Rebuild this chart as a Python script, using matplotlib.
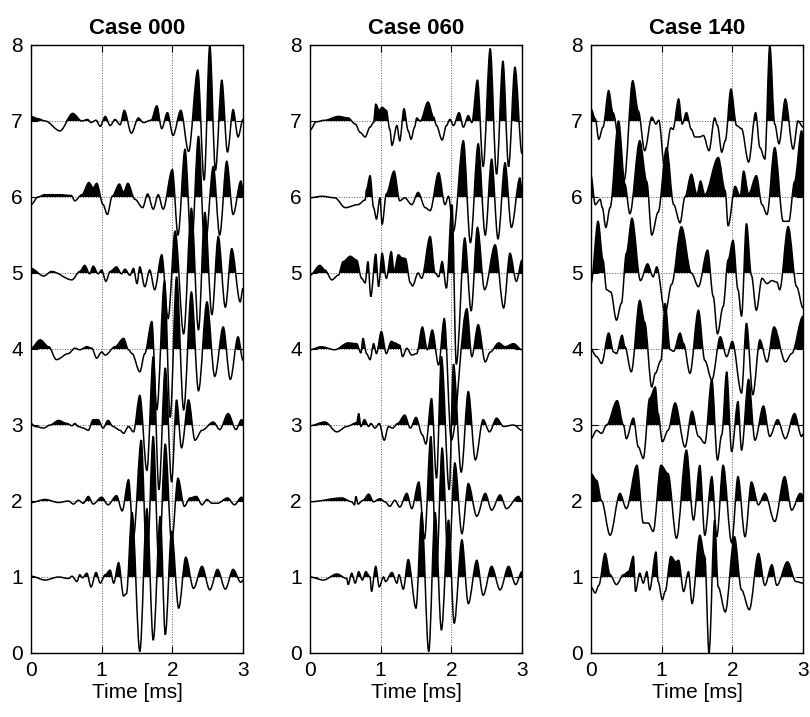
import numpy as np
import matplotlib
matplotlib.use("Agg")
import matplotlib.pyplot as plt
from matplotlib.path import Path
from matplotlib.patches import PathPatch, Rectangle

plt.rcParams['font.family'] = ['Liberation Sans', 'DejaVu Sans']

# trace turning points: (time [ms], amplitude in trace units)
# ---- Case 000 ----
c000_tr1 = [(0.00, 0.01), (0.20, -0.04), (0.39, 0.00), (0.53, -0.02), (0.58, 0.01), (0.65, -0.06),
            (0.69, 0.03), (0.73, -0.01), (0.79, 0.05), (0.85, -0.13), (0.92, 0.06), (0.98, -0.08),
            (1.05, 0.03), (1.12, 0.09), (1.17, -0.08), (1.24, 0.19), (1.31, -0.25), (1.35, -0.22),
            (1.43, 0.85), (1.54, -0.98), (1.64, 0.90), (1.73, -0.83), (1.83, 0.80), (1.90, -0.76),
            (1.99, 0.60), (2.09, -0.41), (2.19, 0.26), (2.30, -0.15), (2.42, 0.14), (2.53, -0.17),
            (2.64, 0.10), (2.75, -0.16), (2.86, 0.10), (2.97, -0.07), (3.00, -0.04)]
c000_tr2 = [(0.00, -0.02), (0.20, 0.02), (0.39, -0.02), (0.53, 0.00), (0.60, -0.04), (0.67, 0.01),
            (0.74, -0.03), (0.81, 0.06), (0.88, -0.04), (1.00, 0.05), (1.09, -0.05), (1.21, 0.07),
            (1.29, -0.13), (1.38, 0.28), (1.45, -0.47), (1.56, 0.80), (1.64, -0.85), (1.73, 0.85),
            (1.81, -0.85), (1.90, 0.75), (1.99, -0.55), (2.08, 0.30), (2.17, -0.07), (2.25, 0.04),
            (2.34, 0.06), (2.42, -0.05), (2.49, 0.02), (2.56, -0.03), (2.64, -0.03), (2.78, 0.04),
            (2.88, -0.05), (2.98, 0.05), (3.00, 0.04)]
c000_tr3 = [(0.00, 0.02), (0.06, -0.02), (0.18, -0.04), (0.27, 0.00), (0.39, 0.06), (0.51, 0.02),
            (0.58, -0.01), (0.62, 0.02), (0.67, -0.02), (0.74, -0.04), (0.81, -0.07), (0.88, 0.07),
            (0.95, 0.07), (1.02, -0.04), (1.09, 0.06), (1.16, -0.02), (1.26, -0.07), (1.31, -0.11),
            (1.38, -0.02), (1.45, -0.09), (1.54, 0.39), (1.64, -0.60), (1.73, 0.90), (1.81, -0.85),
            (1.90, 0.75), (1.99, -0.75), (2.06, 0.33), (2.13, -0.30), (2.23, 0.33), (2.32, -0.20),
            (2.42, -0.07), (2.58, 0.04), (2.67, -0.06), (2.79, 0.15), (2.90, -0.06), (2.98, 0.07),
            (3.00, 0.05)]
c000_tr4 = [(0.00, 0.01), (0.13, 0.12), (0.25, 0.03), (0.36, -0.14), (0.53, -0.06), (0.62, 0.01),
            (0.69, -0.01), (0.79, 0.03), (0.86, 0.01), (0.93, -0.12), (1.00, -0.04), (1.05, -0.08),
            (1.19, 0.03), (1.31, 0.14), (1.38, -0.01), (1.43, -0.06), (1.54, -0.30), (1.61, -0.06),
            (1.71, 0.36), (1.78, -0.80), (1.89, 0.90), (1.97, -0.90), (2.06, 0.95), (2.16, -0.80),
            (2.27, 0.75), (2.37, -0.55), (2.49, 0.62), (2.60, -0.36), (2.72, 0.29), (2.82, -0.40),
            (2.93, 0.16), (3.00, -0.15)]
c000_tr5 = [(0.00, 0.06), (0.18, -0.04), (0.29, 0.02), (0.58, -0.09), (0.69, 0.02), (0.76, 0.10),
            (0.83, -0.01), (0.88, 0.09), (0.95, -0.01), (1.00, 0.04), (1.06, -0.11), (1.12, 0.02),
            (1.21, 0.08), (1.28, -0.01), (1.33, 0.05), (1.40, -0.03), (1.45, 0.06), (1.50, -0.14),
            (1.54, 0.08), (1.61, -0.18), (1.68, 0.04), (1.75, -0.22), (1.85, 0.24), (1.94, -0.60),
            (2.04, 0.55), (2.16, -0.80), (2.27, 0.85), (2.37, -0.75), (2.46, 0.80), (2.56, -0.55),
            (2.65, 0.48), (2.75, -0.45), (2.84, 0.32), (2.96, -0.38), (3.00, -0.20)]
c000_tr6 = [(0.00, -0.10), (0.10, 0.00), (0.19, 0.03), (0.40, 0.03), (0.57, 0.02), (0.62, -0.05),
            (0.72, 0.03), (0.82, 0.19), (0.88, 0.12), (0.93, 0.18), (1.02, -0.10), (1.08, -0.23),
            (1.15, 0.01), (1.25, 0.17), (1.31, 0.06), (1.37, 0.18), (1.47, -0.03), (1.58, -0.14),
            (1.65, 0.04), (1.73, -0.16), (1.80, 0.03), (1.87, -0.16), (2.00, 0.36), (2.08, -0.50),
            (2.18, 0.63), (2.27, -0.70), (2.37, 0.80), (2.46, -0.70), (2.58, 0.40), (2.67, -0.50),
            (2.77, 0.47), (2.86, -0.23), (2.97, 0.21), (3.00, 0.10)]
c000_tr7 = [(0.00, 0.06), (0.10, 0.03), (0.20, 0.00), (0.41, -0.13), (0.59, 0.10), (0.72, 0.00),
            (0.80, 0.02), (0.85, -0.02), (0.92, 0.01), (0.98, -0.07), (1.05, 0.06), (1.12, -0.06),
            (1.19, 0.02), (1.26, -0.05), (1.32, 0.14), (1.42, -0.16), (1.52, 0.04), (1.59, -0.02),
            (1.70, 0.01), (1.78, 0.20), (1.85, -0.10), (1.93, 0.11), (2.01, -0.19), (2.12, 0.14),
            (2.23, -0.40), (2.36, 0.67), (2.45, -0.78), (2.53, 1.00), (2.61, -0.65), (2.70, 0.54),
            (2.78, -0.41), (2.86, 0.15), (2.93, -0.21), (3.00, 0.02)]

# ---- Case 060 ----
c060_tr1 = [(0.00, 0.00), (0.19, -0.04), (0.38, 0.04), (0.52, -0.02), (0.54, -0.10), (0.59, 0.05),
            (0.64, -0.08), (0.69, 0.07), (0.74, -0.04), (0.79, 0.07), (0.85, 0.00), (0.87, -0.19),
            (0.93, 0.14), (0.98, -0.13), (1.04, 0.00), (1.07, -0.06), (1.16, 0.06), (1.23, -0.08),
            (1.26, 0.03), (1.32, -0.16), (1.39, 0.23), (1.50, -0.41), (1.58, 0.85), (1.68, -0.98),
            (1.77, 0.85), (1.86, -0.70), (1.96, 0.75), (2.04, -0.61), (2.15, 0.49), (2.24, -0.35),
            (2.36, 0.22), (2.45, -0.24), (2.57, 0.14), (2.69, -0.17), (2.81, 0.14), (2.91, -0.10),
            (3.00, 0.07)]
c060_tr2 = [(0.00, -0.01), (0.45, 0.04), (0.59, -0.01), (0.63, -0.05), (0.65, 0.06), (0.68, -0.04),
            (0.75, 0.01), (0.83, 0.09), (0.90, -0.01), (0.99, 0.03), (1.06, -0.01), (1.13, -0.07),
            (1.20, 0.01), (1.27, -0.08), (1.37, 0.10), (1.44, -0.10), (1.54, 0.25), (1.62, -0.50),
            (1.71, 0.85), (1.79, -0.90), (1.87, 0.70), (1.96, -0.90), (2.05, 0.50), (2.15, -0.43),
            (2.24, 0.23), (2.36, -0.20), (2.48, 0.10), (2.57, -0.12), (2.69, 0.08), (2.78, -0.10),
            (2.95, 0.06), (3.00, -0.01)]
c060_tr3 = [(0.00, -0.01), (0.21, 0.04), (0.38, -0.09), (0.52, -0.02), (0.66, 0.03), (0.69, 0.15),
            (0.72, -0.02), (0.77, 0.07), (0.83, -0.02), (0.86, 0.02), (0.92, -0.04), (0.98, 0.02),
            (1.05, -0.20), (1.11, -0.02), (1.17, -0.04), (1.24, 0.02), (1.34, 0.13), (1.42, -0.04),
            (1.50, 0.10), (1.59, -0.13), (1.64, -0.25), (1.72, 0.35), (1.79, -0.70), (1.86, 0.90),
            (1.97, -0.85), (2.03, 0.80), (2.14, -0.62), (2.24, 0.44), (2.34, -0.46), (2.45, 0.07),
            (2.54, -0.09), (2.64, 0.09), (2.74, -0.02), (2.88, 0.00), (3.00, -0.07)]
c060_tr4 = [(0.00, -0.01), (0.16, 0.03), (0.35, -0.01), (0.54, 0.08), (0.66, 0.07), (0.72, -0.05),
            (0.75, 0.14), (0.80, -0.06), (0.85, -0.14), (0.90, 0.07), (0.94, -0.06), (1.01, 0.23),
            (1.08, -0.06), (1.15, 0.10), (1.20, 0.08), (1.27, 0.05), (1.31, -0.10), (1.37, 0.01),
            (1.44, -0.08), (1.51, -0.06), (1.59, 0.29), (1.66, -0.01), (1.73, 0.25), (1.82, -0.21),
            (1.90, 0.40), (2.00, -1.20), (2.22, 0.53), (2.29, -0.10), (2.38, 0.32), (2.48, -0.17),
            (2.55, -0.04), (2.67, 0.08), (2.76, 0.03), (2.88, 0.07), (3.00, -0.01)]
c060_tr5 = [(0.00, -0.03), (0.14, 0.10), (0.21, 0.04), (0.31, -0.09), (0.40, -0.03), (0.47, 0.15),
            (0.57, 0.22), (0.66, 0.17), (0.73, -0.07), (0.78, -0.13), (0.82, 0.15), (0.86, -0.31),
            (0.93, 0.25), (0.97, -0.18), (1.02, 0.26), (1.08, -0.07), (1.15, 0.28), (1.19, 0.02),
            (1.25, 0.24), (1.30, 0.20), (1.35, 0.19), (1.42, -0.13), (1.45, -0.17), (1.53, 0.00),
            (1.58, -0.07), (1.70, 0.48), (1.77, 0.00), (1.82, -0.05), (1.87, 0.15), (1.93, -0.20),
            (2.01, 0.90), (2.07, -1.20), (2.19, 0.46), (2.28, -0.50), (2.37, 0.60), (2.47, -0.22),
            (2.62, 0.37), (2.74, -0.46), (2.83, 0.26), (2.92, -0.11), (3.00, 0.17)]
c060_tr6 = [(0.00, -0.01), (0.17, 0.01), (0.35, -0.01), (0.50, -0.14), (0.68, -0.10), (0.78, -0.04),
            (0.80, 0.10), (0.85, 0.28), (0.90, -0.14), (0.94, -0.29), (0.99, -0.01), (1.02, -0.36),
            (1.08, 0.04), (1.19, 0.34), (1.27, -0.05), (1.34, -0.01), (1.44, -0.10), (1.53, 0.06),
            (1.63, -0.14), (1.70, -0.18), (1.82, 0.32), (1.91, -0.10), (1.96, 0.01), (2.03, -0.45),
            (2.17, 0.74), (2.27, -0.60), (2.38, 0.70), (2.48, -0.50), (2.57, 0.50), (2.66, -0.55),
            (2.76, 0.45), (2.85, -0.40), (2.97, 0.25), (3.00, 0.10)]
c060_tr7 = [(0.00, -0.12), (0.09, -0.01), (0.21, 0.01), (0.40, 0.06), (0.54, 0.04), (0.64, -0.04),
            (0.71, -0.15), (0.78, -0.21), (0.85, -0.08), (0.90, -0.02), (0.93, 0.22), (0.98, 0.14),
            (1.02, 0.18), (1.08, 0.14), (1.13, -0.11), (1.16, -0.32), (1.23, -0.06), (1.27, -0.26),
            (1.33, 0.16), (1.39, -0.13), (1.43, -0.24), (1.48, -0.08), (1.51, 0.04), (1.56, 0.00),
            (1.67, 0.25), (1.75, 0.05), (1.79, -0.06), (1.87, -0.25), (1.93, -0.06), (1.98, 0.02),
            (2.03, -0.06), (2.11, 0.11), (2.17, -0.08), (2.24, 0.07), (2.29, -0.02), (2.37, 0.54),
            (2.45, -0.60), (2.55, 0.95), (2.64, -0.70), (2.73, 0.79), (2.81, -0.60), (2.90, 0.71),
            (3.00, -0.43)]

# ---- Case 140 ----
c140_tr1 = [(0.00, -0.13), (0.06, -0.21), (0.11, -0.11), (0.20, 0.31), (0.27, 0.03), (0.36, -0.10),
            (0.46, 0.03), (0.53, 0.07), (0.60, 0.27), (0.63, -0.19), (0.69, 0.05), (0.74, -0.08),
            (0.79, 0.07), (0.83, -0.17), (0.92, 0.33), (0.95, -0.06), (1.01, -0.30), (1.05, -0.19),
            (1.13, 0.27), (1.20, 0.20), (1.24, 0.22), (1.31, -0.19), (1.38, 0.07), (1.43, -0.35),
            (1.54, 0.55), (1.61, 0.27), (1.67, -1.00), (1.75, 0.75), (1.80, -0.13), (1.90, -0.46),
            (2.03, 0.53), (2.13, -0.17), (2.24, -0.43), (2.37, 0.31), (2.46, -0.11), (2.56, 0.16),
            (2.63, -0.11), (2.78, 0.20), (2.90, -0.06), (3.00, -0.08)]
c140_tr2 = [(0.00, 0.36), (0.08, 0.27), (0.15, 0.00), (0.27, -0.45), (0.41, 0.10), (0.50, -0.10),
            (0.65, 0.47), (0.74, -0.29), (0.81, -0.29), (0.88, -0.40), (0.99, 0.47), (1.09, 0.36),
            (1.21, -0.49), (1.35, 0.67), (1.45, -0.25), (1.54, 0.47), (1.61, -0.45), (1.71, 0.32),
            (1.78, -0.47), (1.87, 0.47), (1.99, -0.55), (2.08, 0.32), (2.18, -0.47), (2.27, 0.25),
            (2.37, -0.05), (2.46, 0.10), (2.60, -0.27), (2.74, 0.32), (2.84, -0.12), (2.96, 0.10),
            (3.00, 0.08)]
c140_tr3 = [(0.00, -0.18), (0.08, -0.07), (0.15, -0.11), (0.22, 0.00), (0.37, 0.32), (0.46, 0.00),
            (0.50, -0.18), (0.60, 0.09), (0.67, -0.29), (0.74, -0.44), (0.83, 0.35), (0.91, 0.50),
            (0.95, 0.15), (1.01, -0.22), (1.09, -0.07), (1.19, 0.29), (1.33, -0.29), (1.43, 0.18),
            (1.52, -0.15), (1.61, -0.24), (1.71, 0.60), (1.79, -0.46), (1.85, -0.13), (1.92, 0.70),
            (1.99, -0.35), (2.08, 0.31), (2.13, -0.33), (2.23, 0.60), (2.32, -0.20), (2.44, 0.25),
            (2.53, -0.15), (2.64, 0.07), (2.75, -0.18), (2.88, 0.15), (2.98, -0.15), (3.00, -0.12)]
c140_tr4 = [(0.00, -0.01), (0.08, -0.10), (0.15, -0.19), (0.25, 0.21), (0.32, -0.04), (0.36, -0.06),
            (0.44, 0.18), (0.48, 0.03), (0.57, -0.30), (0.69, 0.64), (0.76, 0.35), (0.86, -0.50),
            (0.91, -0.32), (0.99, -0.15), (1.05, 0.60), (1.12, -0.01), (1.17, -0.03), (1.26, 0.21),
            (1.31, 0.07), (1.40, -0.32), (1.52, 0.51), (1.61, -0.15), (1.71, -0.41), (1.83, 0.16),
            (1.92, -0.10), (2.00, 0.10), (2.13, -0.58), (2.20, 0.34), (2.29, -0.60), (2.39, 0.12),
            (2.49, -0.17), (2.59, 0.29), (2.75, -0.17), (2.84, -0.06), (3.00, 0.43)]
c140_tr5 = [(0.00, -0.14), (0.10, 0.68), (0.17, 0.17), (0.22, -0.22), (0.28, -0.25), (0.36, -0.62),
            (0.43, -0.40), (0.50, 0.26), (0.58, 0.72), (0.70, -0.10), (0.80, 0.12), (0.88, -0.05),
            (0.93, 0.08), (1.05, -0.53), (1.14, -0.15), (1.28, 0.61), (1.42, 0.00), (1.52, -0.18),
            (1.65, 0.30), (1.73, -0.31), (1.79, -0.80), (1.87, -0.44), (1.94, 0.17), (2.01, 0.43),
            (2.08, -0.22), (2.13, -0.57), (2.20, 0.65), (2.27, -0.03), (2.34, -0.49), (2.42, -0.07),
            (2.49, -0.14), (2.56, -0.10), (2.63, -0.12), (2.67, -0.22), (2.79, 0.61), (2.91, -0.18),
            (3.00, -0.46)]
c140_tr6 = [(0.00, 0.28), (0.06, -0.10), (0.13, -0.03), (0.16, -0.14), (0.21, -0.40), (0.27, -0.14),
            (0.39, 1.00), (0.48, 0.17), (0.55, -0.22), (0.69, 0.74), (0.79, 0.20), (0.86, -0.50),
            (0.95, -0.20), (1.07, 0.65), (1.17, -0.10), (1.26, -0.34), (1.33, 0.00), (1.42, 0.30),
            (1.50, 0.03), (1.55, 0.21), (1.61, 0.03), (1.80, 0.52), (1.90, 0.08), (1.94, -0.38),
            (2.04, 0.14), (2.11, 0.01), (2.16, 0.34), (2.23, 0.04), (2.34, 0.28), (2.42, -0.10),
            (2.49, -0.23), (2.60, 0.65), (2.72, -0.32), (2.80, -0.32), (2.88, 0.20), (2.98, 0.87),
            (3.00, 0.80)]
c140_tr7 = [(0.00, 0.16), (0.06, 0.03), (0.11, -0.24), (0.17, -0.08), (0.25, 0.40), (0.31, 0.11),
            (0.47, -0.78), (0.59, 0.53), (0.67, 0.13), (0.76, -0.39), (0.86, 0.05), (0.92, -0.04),
            (0.96, 0.01), (1.04, -0.60), (1.13, -0.09), (1.16, -0.11), (1.24, 0.29), (1.29, -0.04),
            (1.35, 0.11), (1.42, -0.11), (1.47, -0.21), (1.54, -0.21), (1.59, -0.19), (1.67, -0.39),
            (1.75, 0.04), (1.79, -0.06), (1.85, -0.41), (1.90, -0.26), (1.98, 0.42), (2.06, -0.06),
            (2.13, -0.10), (2.23, -0.54), (2.33, 0.11), (2.39, -0.35), (2.46, -0.50), (2.53, 1.00),
            (2.60, -0.04), (2.66, -0.30), (2.75, 0.29), (2.86, -0.37), (2.93, 0.00), (3.00, -0.08)]

case_titles = ["Case 000", "Case 060", "Case 140"]
case_traces = [
    [c000_tr1, c000_tr2, c000_tr3, c000_tr4, c000_tr5, c000_tr6, c000_tr7],
    [c060_tr1, c060_tr2, c060_tr3, c060_tr4, c060_tr5, c060_tr6, c060_tr7],
    [c140_tr1, c140_tr2, c140_tr3, c140_tr4, c140_tr5, c140_tr6, c140_tr7],
]
x_ticks = [0, 1, 2, 3]
y_ticks = [0, 1, 2, 3, 4, 5, 6, 7, 8]


def wiggle_path(t, y, base=None):
    # smooth bezier through the turning points (flat tangent at each one)
    verts = [(t[0], y[0])]
    codes = [Path.MOVETO]
    for i in range(len(t) - 1):
        d = (t[i + 1] - t[i]) / 3.0
        verts += [(t[i] + d, y[i]), (t[i + 1] - d, y[i + 1]), (t[i + 1], y[i + 1])]
        codes += [Path.CURVE4] * 3
    if base is not None:
        verts += [(t[-1], base), (t[0], base), (t[0], y[0])]
        codes += [Path.LINETO, Path.LINETO, Path.CLOSEPOLY]
    return Path(verts, codes)


fig = plt.figure(figsize=(8.1, 7.17), dpi=100)
lefts = [31, 310, 591]

for left, title, traces in zip(lefts, case_titles, case_traces):
    ax = fig.add_axes([left / 810, 64 / 717, 212 / 810, 608 / 717])
    for k, tr in enumerate(traces, start=1):
        t = [p[0] for p in tr]
        y = [k + p[1] for p in tr]
        # black fill only where the trace is above its baseline
        fill = PathPatch(wiggle_path(t, y, base=k), facecolor='k', edgecolor='none', lw=0)
        ax.add_patch(fill)
        fill.set_clip_path(Rectangle((0, k), 3, 3, transform=ax.transData))
        ax.add_patch(PathPatch(wiggle_path(t, y), facecolor='none', edgecolor='k', lw=1.1))
    ax.set_xlim(0, 3)
    ax.set_ylim(0, 8)
    ax.set_xticks(x_ticks)
    ax.set_yticks(y_ticks)
    ax.grid(True, linestyle=':', color='0.35', linewidth=0.7)
    ax.set_axisbelow(True)
    ax.tick_params(direction='in', top=True, right=True, length=5, labelsize=15, pad=6)
    for s in ax.spines.values():
        s.set_linewidth(1.0)
    ax.set_title(title, fontsize=16, fontweight='bold', pad=8)
    ax.set_xlabel("Time [ms]", fontsize=15, labelpad=2)

fig.savefig("out.png", dpi=100)
